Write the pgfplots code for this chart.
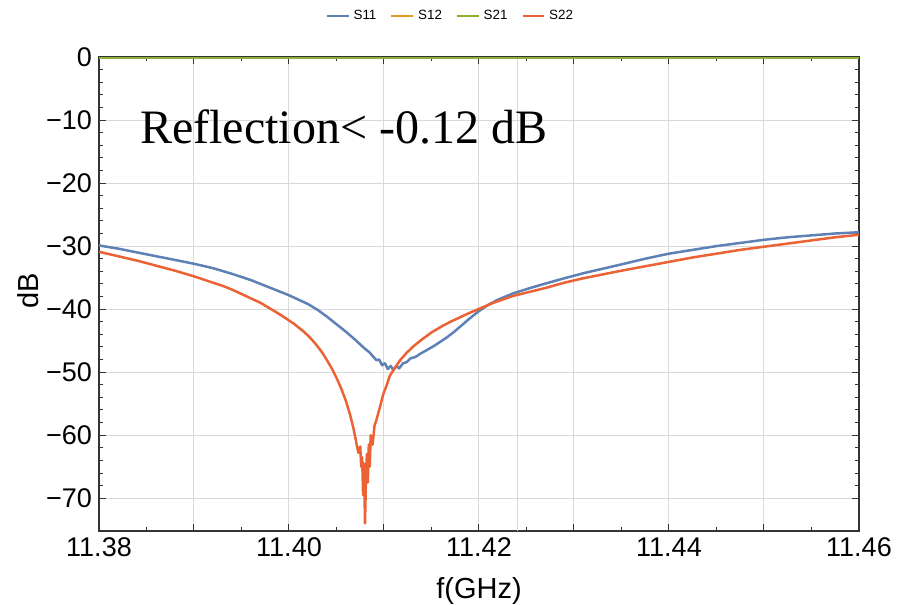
\documentclass[border=0pt]{standalone}
\usepackage{fontspec}
\setmainfont{Liberation Sans}
\newfontfamily\timesfont{Liberation Serif}
\usepackage{pgfplots}
\pgfplotsset{compat=1.18}
\definecolor{cS11}{rgb}{0.368417,0.506779,0.709798}
\definecolor{cS12}{rgb}{0.880722,0.611041,0.142051}
\definecolor{cS21}{rgb}{0.560181,0.691569,0.194885}
\definecolor{cS22}{rgb}{0.922526,0.385626,0.209179}
\begin{document}
\begin{tikzpicture}
\path[use as bounding box] (-49.5pt,-36.5pt) rectangle (399pt,265.5pt);
\begin{axis}[
  scale only axis, width=380pt, height=237pt,
  xmin=11.38, xmax=11.46, ymin=-75.2, ymax=0,
  xtick={11.38,11.39,11.40,11.41,11.42,11.43,11.44,11.45,11.46},
  xticklabels={11.38,,11.40,,11.42,,11.44,,11.46},
  minor x tick num=1,
  ytick={-70,-60,-50,-40,-30,-20,-10,0},
  yticklabels={−70,−60,−50,−40,−30,−20,−10,0},
  minor y tick num=4,
  grid=major, major grid style={gray!30, line width=0.5pt},
  tick align=inside, major tick length=3.5pt, minor tick length=2pt,
  tick style={black!80, line width=0.5pt},
  axis line style={black!80, line width=0.6pt},
  ticklabel style={font=\fontsize{13.5}{15}\selectfont},
  xlabel={f(GHz)}, ylabel={dB},
  label style={font=\fontsize{14.5}{16}\selectfont},
  xlabel style={at={(axis description cs:0.5,-0.1266)},anchor=center},
  ylabel style={at={(axis description cs:-0.0934,0.506)},anchor=center},
  extra x ticks={11.4241}, extra x tick labels={},
  extra x tick style={major tick length=0pt, grid=major},
  legend columns=-1,
  legend style={at={(axis description cs:0.4638,1.0865)}, anchor=center, draw=none, fill=none,
    font=\fontsize{6.7}{8}\selectfont,
    /tikz/every even column/.append style={column sep=5pt}},
  legend image code/.code={\draw[#1,line width=1pt] (0pt,0pt) -- (10.85pt,0pt);},
]
\addplot[cS11, line width=1.25pt, line join=round] coordinates {
(11.380,-29.9) (11.382,-30.4) (11.384,-31.0) (11.386,-31.6) (11.388,-32.2) (11.390,-32.8)
(11.392,-33.5) (11.394,-34.4) (11.396,-35.4) (11.398,-36.6) (11.400,-37.8) (11.401,-38.5)
(11.402,-39.2) (11.403,-40.1) (11.404,-41.2) (11.405,-42.4) (11.406,-43.6) (11.407,-44.9)
(11.408,-46.3) (11.4085,-46.9) (11.4089,-47.6) (11.4092,-48.1) (11.4095,-48.0) (11.4098,-48.9)
(11.4101,-48.6) (11.4104,-49.5) (11.4107,-49.0) (11.4110,-49.7) (11.4113,-49.0) (11.4116,-49.4)
(11.4120,-48.6) (11.4124,-48.4) (11.4128,-47.8) (11.4133,-47.6) (11.4138,-47.1) (11.4145,-46.5)
(11.4152,-45.9) (11.4159,-45.2) (11.4166,-44.5) (11.4173,-43.7) (11.4180,-42.8) (11.4190,-41.5)
(11.4200,-40.3) (11.4210,-39.3) (11.4220,-38.5) (11.4236,-37.5) (11.4255,-36.6) (11.4271,-35.9)
(11.4290,-35.1) (11.4310,-34.3) (11.4330,-33.6) (11.4350,-32.9) (11.4375,-32.0) (11.4400,-31.2)
(11.4425,-30.6) (11.4450,-30.0) (11.4475,-29.5) (11.4500,-29.0) (11.4525,-28.6) (11.4550,-28.3)
(11.4575,-28.0) (11.4600,-27.8)
};
\addlegendentry{S11}
\addplot[cS12, line width=1.1pt] coordinates {(11.38,-0.1) (11.46,-0.1)};
\addlegendentry{S12}
\addplot[cS21, line width=1.1pt] coordinates {(11.38,-0.1) (11.46,-0.1)};
\addlegendentry{S21}
\addplot[cS22, line width=1.25pt, line join=round] coordinates {
(11.380,-30.9) (11.382,-31.6) (11.384,-32.3) (11.386,-33.1) (11.388,-33.9) (11.390,-34.8)
(11.391,-35.3) (11.392,-35.8) (11.393,-36.3) (11.394,-36.9) (11.395,-37.6) (11.396,-38.3)
(11.397,-39.0) (11.398,-39.9) (11.399,-40.8) (11.400,-41.8) (11.4005,-42.3) (11.401,-42.9)
(11.4015,-43.5) (11.402,-44.2) (11.4025,-45.0) (11.403,-45.9) (11.4035,-46.9) (11.404,-48.1)
(11.4045,-49.4) (11.405,-50.9) (11.4055,-52.6) (11.406,-54.6) (11.4064,-56.6) (11.4068,-59.0)
(11.4071,-61.3) (11.4073,-62.8) (11.4075,-61.8) (11.4076,-65.0) (11.4077,-63.5) (11.4078,-69.5)
(11.4079,-64.5) (11.4080,-74.0) (11.4081,-67.0) (11.4082,-63.0) (11.4083,-67.5) (11.4084,-61.5)
(11.4085,-65.0) (11.4086,-60.0) (11.4088,-61.5) (11.4090,-58.5) (11.4092,-57.6) (11.4096,-55.4)
(11.4099,-53.6) (11.4103,-52.0) (11.4106,-50.6) (11.4112,-49.2) (11.4117,-48.1) (11.4124,-46.9)
(11.4131,-45.9) (11.4140,-44.8) (11.4150,-43.7) (11.4160,-42.8) (11.4170,-42.0) (11.4180,-41.3)
(11.4190,-40.6) (11.4201,-39.9) (11.4215,-39.0) (11.4236,-37.9) (11.4255,-37.2) (11.4271,-36.6)
(11.4290,-35.8) (11.4310,-35.1) (11.4330,-34.5) (11.4350,-33.9) (11.4375,-33.2) (11.4400,-32.5)
(11.4425,-31.8) (11.4450,-31.2) (11.4475,-30.6) (11.4500,-30.1) (11.4525,-29.6) (11.4550,-29.1)
(11.4575,-28.6) (11.4600,-28.2)
};
\addlegendentry{S22}
\node[anchor=base west, inner sep=0pt, font=\timesfont\fontsize{24}{28}\selectfont]
  at (axis cs:11.3843,-13.65) {Reflection< -0.12 dB};
\end{axis}
\end{tikzpicture}
\end{document}
